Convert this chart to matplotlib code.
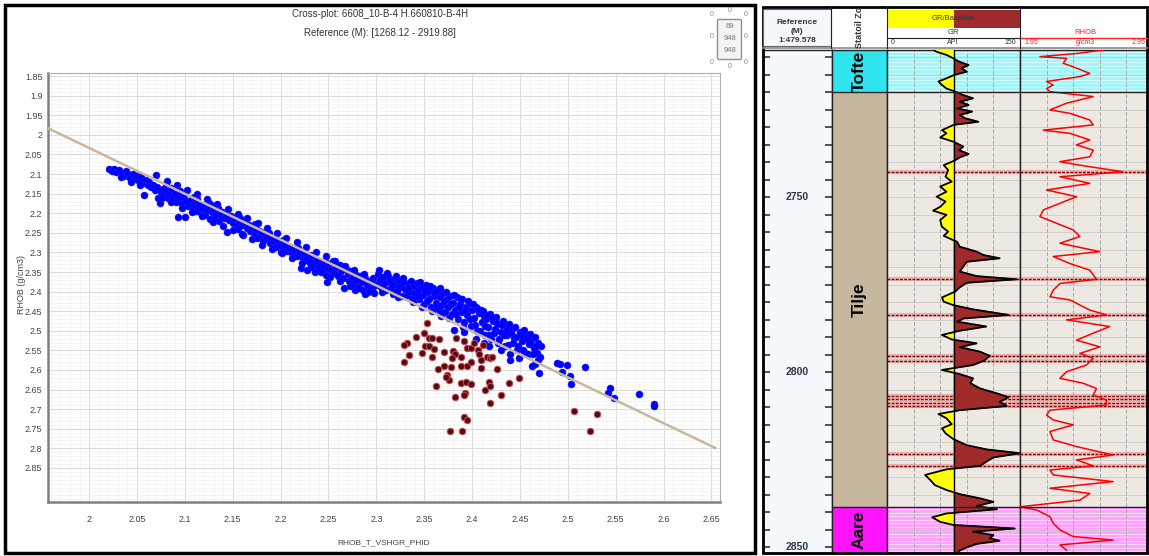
import numpy as np
import matplotlib
matplotlib.use("Agg")
import matplotlib.pyplot as plt
from matplotlib.patches import Rectangle, FancyBboxPatch
from matplotlib.ticker import MultipleLocator, FuncFormatter
from matplotlib.transforms import blended_transform_factory

plt.rcParams["font.family"] = ["Liberation Sans", "DejaVu Sans"]

# ---------------------------------------------------------------- crossplot data
x_ticks = [2, 2.05, 2.1, 2.15, 2.2, 2.25, 2.3, 2.35, 2.4, 2.45, 2.5, 2.55, 2.6, 2.65]
y_ticks = [1.85, 1.9, 1.95, 2, 2.05, 2.1, 2.15, 2.2, 2.25, 2.3, 2.35, 2.4, 2.45,
           2.5, 2.55, 2.6, 2.65, 2.7, 2.75, 2.8, 2.85]

# reference trend line (RHOB_T vs RHOB)
trend_rhob_t = [1.957, 2.654]
trend_rhob = [1.983, 2.799]

# blue points, (RHOB_T_VSHGR_PHID, RHOB) pairs
blue_start = [
    (2.021, 2.088), (2.024, 2.092), (2.026, 2.086), (2.028, 2.095), (2.031, 2.090),
    (2.034, 2.098), (2.036, 2.104), (2.039, 2.093), (2.041, 2.101), (2.043, 2.110),
    (2.046, 2.099), (2.048, 2.112), (2.050, 2.104), (2.052, 2.118), (2.054, 2.108),
    (2.056, 2.124), (2.057, 2.154), (2.059, 2.114), (2.061, 2.128), (2.063, 2.120),
    (2.065, 2.133), (2.033, 2.108), (2.044, 2.120), (2.053, 2.129),
]
blue_upper = [
    (2.067, 2.127), (2.069, 2.140), (2.071, 2.133), (2.072, 2.160), (2.074, 2.174),
    (2.075, 2.145), (2.077, 2.138), (2.078, 2.152), (2.080, 2.143), (2.082, 2.160),
    (2.083, 2.150), (2.085, 2.146), (2.087, 2.165), (2.088, 2.155), (2.090, 2.150),
    (2.091, 2.170), (2.093, 2.210), (2.094, 2.158), (2.096, 2.163), (2.097, 2.176),
    (2.099, 2.160), (2.100, 2.210), (2.101, 2.168), (2.103, 2.182), (2.104, 2.172),
    (2.106, 2.165), (2.108, 2.190), (2.109, 2.176), (2.111, 2.170), (2.112, 2.195),
    (2.114, 2.182), (2.115, 2.176), (2.117, 2.200), (2.118, 2.188), (2.120, 2.181),
    (2.121, 2.205), (2.123, 2.192), (2.124, 2.185), (2.126, 2.215), (2.128, 2.196),
    (2.129, 2.190), (2.131, 2.210), (2.133, 2.200), (2.134, 2.193), (2.136, 2.220),
    (2.138, 2.205), (2.139, 2.198), (2.085, 2.135), (2.098, 2.150), (2.113, 2.163),
    (2.127, 2.180), (2.080, 2.125), (2.095, 2.142), (2.110, 2.158), (2.125, 2.175),
    (2.135, 2.186),
]
blue_middle = [
    (2.141, 2.212), (2.143, 2.202), (2.144, 2.247), (2.146, 2.218), (2.148, 2.207),
    (2.150, 2.225), (2.151, 2.213), (2.153, 2.232), (2.155, 2.216), (2.156, 2.240),
    (2.158, 2.222), (2.160, 2.230), (2.161, 2.256), (2.163, 2.225), (2.165, 2.238),
    (2.167, 2.230), (2.168, 2.246), (2.170, 2.236), (2.172, 2.250), (2.174, 2.240),
    (2.175, 2.262), (2.177, 2.245), (2.179, 2.256), (2.180, 2.248), (2.182, 2.270),
    (2.184, 2.254), (2.185, 2.262), (2.187, 2.258), (2.189, 2.276), (2.190, 2.264),
    (2.192, 2.270), (2.194, 2.262), (2.195, 2.285), (2.197, 2.272), (2.199, 2.280),
    (2.200, 2.298), (2.202, 2.276), (2.204, 2.288), (2.205, 2.282), (2.207, 2.296),
    (2.209, 2.286), (2.211, 2.300), (2.212, 2.290), (2.214, 2.305), (2.216, 2.295),
    (2.217, 2.310), (2.219, 2.300), (2.221, 2.341), (2.222, 2.312), (2.224, 2.304),
    (2.226, 2.320), (2.228, 2.345), (2.229, 2.312), (2.231, 2.326), (2.233, 2.316),
    (2.235, 2.332), (2.236, 2.349), (2.238, 2.322), (2.240, 2.338), (2.242, 2.328),
    (2.244, 2.345), (2.245, 2.335), (2.247, 2.358), (2.248, 2.375), (2.249, 2.340),
    (2.158, 2.212), (2.173, 2.228), (2.188, 2.250), (2.203, 2.268), (2.218, 2.288),
    (2.232, 2.306), (2.246, 2.322),
    (2.251, 2.330), (2.253, 2.345), (2.255, 2.322), (2.256, 2.352), (2.258, 2.338),
    (2.260, 2.360), (2.262, 2.332), (2.263, 2.348), (2.265, 2.365), (2.266, 2.392),
    (2.268, 2.342), (2.270, 2.356), (2.271, 2.372), (2.273, 2.348), (2.275, 2.362),
    (2.276, 2.380), (2.278, 2.356), (2.280, 2.370), (2.281, 2.388), (2.283, 2.360),
    (2.285, 2.376), (2.286, 2.395), (2.288, 2.366), (2.290, 2.382), (2.291, 2.400),
    (2.293, 2.372), (2.295, 2.390), (2.296, 2.376), (2.298, 2.404), (2.300, 2.384),
    (2.278, 2.395), (2.288, 2.405),
]
blue_middle_edges = [
    (2.070, 2.103), (2.076, 2.160), (2.081, 2.117), (2.086, 2.172), (2.092, 2.128),
    (2.097, 2.186), (2.102, 2.140), (2.107, 2.196), (2.113, 2.152), (2.118, 2.208),
    (2.123, 2.164), (2.129, 2.222), (2.134, 2.176), (2.140, 2.232), (2.145, 2.190),
    (2.150, 2.244), (2.155, 2.202), (2.160, 2.254), (2.165, 2.213), (2.170, 2.266),
    (2.176, 2.226), (2.181, 2.280), (2.186, 2.238), (2.191, 2.290), (2.196, 2.250),
    (2.201, 2.302), (2.206, 2.262), (2.212, 2.314), (2.217, 2.274), (2.222, 2.326),
    (2.227, 2.286), (2.232, 2.338), (2.237, 2.298), (2.242, 2.350), (2.247, 2.310),
    (2.252, 2.362), (2.257, 2.322), (2.262, 2.374), (2.267, 2.334), (2.272, 2.386),
    (2.277, 2.345), (2.282, 2.392), (2.287, 2.355), (2.292, 2.398), (2.297, 2.366),
]
blue_lower = [
    (2.302, 2.356), (2.304, 2.370), (2.305, 2.388), (2.307, 2.362), (2.309, 2.378),
    (2.310, 2.395), (2.312, 2.360), (2.314, 2.374), (2.315, 2.390), (2.317, 2.405),
    (2.319, 2.366), (2.320, 2.382), (2.322, 2.398), (2.324, 2.372), (2.325, 2.388),
    (2.327, 2.412), (2.329, 2.376), (2.330, 2.394), (2.332, 2.408), (2.334, 2.380),
    (2.335, 2.400), (2.337, 2.418), (2.339, 2.386), (2.340, 2.404),
    (2.342, 2.378), (2.344, 2.395), (2.345, 2.420), (2.347, 2.388), (2.349, 2.408),
    (2.350, 2.432), (2.352, 2.382), (2.354, 2.400), (2.355, 2.418), (2.357, 2.440),
    (2.359, 2.392), (2.360, 2.410), (2.362, 2.428), (2.364, 2.398), (2.365, 2.446),
    (2.367, 2.415), (2.369, 2.434), (2.370, 2.404), (2.372, 2.452), (2.374, 2.420),
    (2.375, 2.440), (2.377, 2.410), (2.379, 2.458), (2.380, 2.428),
    (2.382, 2.446), (2.384, 2.415), (2.385, 2.470), (2.387, 2.432), (2.389, 2.452),
    (2.390, 2.420), (2.392, 2.478), (2.394, 2.440), (2.395, 2.460), (2.397, 2.428),
    (2.399, 2.488), (2.400, 2.448), (2.402, 2.468), (2.404, 2.438), (2.405, 2.500),
    (2.407, 2.455), (2.409, 2.447), (2.410, 2.478), (2.412, 2.462), (2.414, 2.510),
    (2.415, 2.470), (2.417, 2.490), (2.419, 2.458), (2.420, 2.520),
    (2.422, 2.476), (2.424, 2.496), (2.425, 2.466), (2.427, 2.530), (2.429, 2.482),
    (2.430, 2.502), (2.432, 2.474), (2.434, 2.540), (2.435, 2.488), (2.437, 2.510),
    (2.439, 2.482), (2.440, 2.575), (2.442, 2.496), (2.444, 2.518), (2.445, 2.490),
    (2.447, 2.548), (2.449, 2.570), (2.450, 2.504), (2.452, 2.526), (2.454, 2.498),
    (2.455, 2.556), (2.457, 2.512), (2.459, 2.534), (2.460, 2.508), (2.462, 2.523),
    (2.463, 2.591), (2.465, 2.545), (2.466, 2.515), (2.468, 2.557), (2.469, 2.531),
    (2.470, 2.608), (2.471, 2.568), (2.472, 2.540), (2.466, 2.585),
    (2.404, 2.520), (2.412, 2.532), (2.418, 2.540), (2.430, 2.548), (2.440, 2.560),
    (2.381, 2.498), (2.392, 2.502),
]
blue_lower_fill = [
    (2.303, 2.345), (2.306, 2.400), (2.311, 2.352), (2.316, 2.384), (2.321, 2.360),
    (2.323, 2.414), (2.328, 2.366), (2.333, 2.392), (2.336, 2.372), (2.338, 2.426),
    (2.343, 2.410), (2.346, 2.376), (2.348, 2.438), (2.351, 2.396), (2.353, 2.424),
    (2.356, 2.386), (2.358, 2.450), (2.361, 2.400), (2.363, 2.438), (2.366, 2.392),
    (2.368, 2.462), (2.371, 2.424), (2.373, 2.400), (2.376, 2.468), (2.378, 2.432),
    (2.381, 2.408), (2.383, 2.458), (2.386, 2.440), (2.388, 2.418), (2.391, 2.490),
    (2.393, 2.450), (2.396, 2.425), (2.398, 2.470), (2.401, 2.432), (2.403, 2.484),
    (2.406, 2.445), (2.408, 2.500), (2.411, 2.450), (2.413, 2.488), (2.416, 2.460),
    (2.418, 2.512), (2.421, 2.466), (2.423, 2.505), (2.426, 2.480), (2.428, 2.520),
    (2.431, 2.486), (2.433, 2.512), (2.436, 2.498), (2.438, 2.535), (2.441, 2.505),
    (2.443, 2.530), (2.446, 2.515), (2.448, 2.540), (2.451, 2.510), (2.453, 2.548),
    (2.456, 2.522), (2.458, 2.560), (2.461, 2.530), (2.464, 2.560), (2.467, 2.540),
    (2.469, 2.575),
]
blue_tail = [
    (2.489, 2.581), (2.492, 2.585), (2.499, 2.587), (2.494, 2.604), (2.502, 2.615),
    (2.503, 2.636), (2.518, 2.593), (2.544, 2.647), (2.542, 2.659), (2.548, 2.672),
    (2.574, 2.661), (2.590, 2.687), (2.590, 2.692),
]

# dark red points
red_points = [
    (2.353, 2.481), (2.350, 2.505), (2.341, 2.515), (2.332, 2.530), (2.329, 2.535),
    (2.355, 2.519), (2.358, 2.519), (2.365, 2.522), (2.351, 2.539), (2.355, 2.539),
    (2.360, 2.547), (2.348, 2.556), (2.358, 2.566), (2.334, 2.562), (2.329, 2.579),
    (2.371, 2.553), (2.383, 2.519), (2.392, 2.525), (2.380, 2.551), (2.382, 2.559),
    (2.379, 2.570), (2.388, 2.568), (2.395, 2.545), (2.399, 2.545), (2.406, 2.549),
    (2.407, 2.558), (2.409, 2.575), (2.402, 2.530), (2.411, 2.536), (2.416, 2.566),
    (2.419, 2.570), (2.421, 2.566), (2.371, 2.590), (2.364, 2.598), (2.378, 2.593),
    (2.388, 2.590), (2.395, 2.590), (2.399, 2.579), (2.409, 2.596), (2.426, 2.598),
    (2.374, 2.613), (2.376, 2.625), (2.373, 2.619), (2.362, 2.641), (2.388, 2.634),
    (2.394, 2.630), (2.399, 2.636), (2.393, 2.658), (2.392, 2.664), (2.382, 2.668),
    (2.414, 2.651), (2.418, 2.630), (2.419, 2.641), (2.430, 2.664), (2.439, 2.634),
    (2.449, 2.620), (2.419, 2.685), (2.392, 2.719), (2.395, 2.728), (2.377, 2.757),
    (2.389, 2.757), (2.507, 2.706), (2.530, 2.713), (2.523, 2.756),
]

# ---------------------------------------------------------------- well log data
zone_names = ["Tofte", "Tilje", "Aare"]
zone_tops = [2708.0, 2720.1, 2838.7]
zone_bases = [2720.1, 2838.7, 2851.7]
zone_colors = ["#2FE4EE", "#C8B79F", "#FF14FF"]
track_colors = ["#A4F5F7", "#EDE8E1", "#FFA3FF"]
depth_labels = [2750, 2800, 2850]
gr_baseline = 76
flag_depths = [2742.8, 2773.5, 2783.7, 2795.4, 2796.9, 2806.9, 2807.8, 2808.8,
               2809.7, 2823.5, 2826.8]

# (depth m, GR API)
gr_log = [
    (2708.0, 52), (2708.5, 56), (2709.4, 67), (2710.4, 75), (2711.3, 81), (2712.3, 92),
    (2713.2, 84), (2714.2, 90), (2715.1, 76), (2716.1, 67), (2717.0, 58), (2718.0, 62),
    (2719.0, 67), (2719.9, 77), (2720.9, 86), (2721.8, 97), (2722.8, 82), (2723.7, 92),
    (2724.7, 79), (2725.6, 96), (2726.6, 82), (2727.5, 88), (2728.5, 103), (2729.4, 75),
    (2730.9, 62), (2731.8, 67), (2733.0, 60), (2734.2, 75), (2735.6, 86), (2736.6, 81),
    (2737.7, 92), (2738.7, 82), (2739.6, 76), (2740.9, 64), (2742.3, 69), (2744.2, 66),
    (2745.6, 73), (2747.0, 60), (2748.5, 67), (2749.9, 56), (2751.3, 66), (2752.8, 60),
    (2753.9, 52), (2755.1, 67), (2756.6, 60), (2758.5, 62), (2759.9, 69), (2761.1, 64),
    (2762.8, 79), (2764.2, 82), (2765.6, 101), (2766.6, 109), (2767.5, 127), (2768.5, 90),
    (2769.9, 86), (2771.3, 82), (2772.6, 101), (2773.5, 146), (2774.5, 90), (2775.8, 82),
    (2777.0, 77), (2778.7, 62), (2779.9, 64), (2780.9, 75), (2782.1, 97), (2783.7, 137),
    (2784.7, 86), (2785.6, 79), (2787.0, 112), (2788.2, 82), (2789.4, 62), (2790.7, 73),
    (2791.8, 101), (2792.9, 82), (2794.2, 105), (2795.4, 116), (2796.8, 109), (2798.0, 97),
    (2799.4, 62), (2800.6, 82), (2801.8, 97), (2803.2, 94), (2804.7, 105), (2806.1, 124),
    (2807.2, 137), (2808.5, 127), (2809.7, 135), (2810.9, 82), (2812.0, 58), (2813.2, 67),
    (2814.9, 73), (2816.1, 62), (2817.5, 66), (2819.2, 75), (2820.9, 90), (2822.1, 112),
    (2823.2, 150), (2824.4, 120), (2825.6, 112), (2826.8, 105), (2827.8, 67), (2829.4, 43),
    (2830.9, 49), (2832.3, 54), (2833.7, 67), (2834.9, 82), (2836.1, 105), (2837.1, 120),
    (2838.3, 101), (2839.2, 124), (2840.4, 67), (2841.5, 51), (2842.8, 60), (2843.7, 75),
    (2844.7, 144), (2845.6, 97), (2846.6, 120), (2847.5, 116), (2848.2, 127), (2849.1, 101),
    (2850.1, 90), (2851.0, 82), (2851.7, 80),
]

# (depth m, RHOB g/cm3)
rhob_log = [
    (2708.0, 2.575), (2709.0, 2.375), (2709.9, 2.10), (2710.4, 2.30), (2711.8, 2.275),
    (2712.8, 2.35), (2714.7, 2.475), (2715.6, 2.40), (2717.0, 2.15), (2718.0, 2.20),
    (2719.0, 2.15), (2719.9, 2.175), (2721.3, 2.50), (2723.2, 2.30), (2725.1, 2.175),
    (2726.1, 2.325), (2728.0, 2.475), (2729.4, 2.50), (2730.9, 2.125), (2731.8, 2.325),
    (2733.7, 2.475), (2735.1, 2.375), (2736.6, 2.50), (2738.5, 2.475), (2739.9, 2.25),
    (2740.9, 2.40), (2742.8, 2.725), (2744.2, 2.25), (2746.1, 2.475), (2748.0, 2.15),
    (2749.9, 2.375), (2751.8, 2.25), (2753.7, 2.125), (2755.6, 2.10), (2757.5, 2.225),
    (2759.4, 2.35), (2761.3, 2.40), (2763.2, 2.25), (2765.6, 2.55), (2767.0, 2.20),
    (2769.0, 2.325), (2770.9, 2.475), (2773.5, 2.525), (2774.7, 2.25), (2776.6, 2.20),
    (2778.5, 2.175), (2779.4, 2.325), (2782.3, 2.475), (2783.7, 2.60), (2785.1, 2.30),
    (2787.0, 2.625), (2788.9, 2.50), (2790.9, 2.375), (2792.8, 2.55), (2794.7, 2.40),
    (2796.1, 2.50), (2798.0, 2.45), (2799.9, 2.30), (2801.8, 2.25), (2803.2, 2.425),
    (2804.7, 2.525), (2806.6, 2.50), (2808.0, 2.60), (2809.4, 2.60), (2810.9, 2.175),
    (2812.3, 2.15), (2813.7, 2.20), (2815.1, 2.35), (2817.0, 2.175), (2819.4, 2.20),
    (2821.3, 2.375), (2823.7, 2.65), (2825.1, 2.375), (2826.8, 2.50), (2828.0, 2.175),
    (2829.4, 2.20), (2831.3, 2.65), (2833.2, 2.175), (2834.7, 2.475), (2836.6, 2.40),
    (2838.5, 1.95), (2839.4, 2.075), (2841.3, 2.175), (2843.2, 2.20), (2845.1, 2.25),
    (2847.0, 2.35), (2848.0, 2.65), (2849.4, 2.25), (2850.9, 2.30),
]

# ---------------------------------------------------------------- figure
W, H = 1149, 556
fig = plt.figure(figsize=(W / 100, H / 100), dpi=100, facecolor="white")


def px_axes(x0, y0, x1, y1):
    # axes from a pixel box, origin at top-left
    return fig.add_axes([x0 / W, 1 - y1 / H, (x1 - x0) / W, (y1 - y0) / H])


# ---- crossplot
ax = px_axes(48, 73, 720, 502)
blue = (blue_start + blue_upper + blue_middle + blue_middle_edges + blue_lower
        + blue_lower_fill + blue_tail)
bx, by = zip(*blue)
rx, ry = zip(*red_points)
ax.scatter(bx, by, s=26, color="#0000FF", edgecolors="#2020FF", linewidths=0.3, zorder=3)
ax.scatter(rx, ry, s=22, color="#5A0A16", edgecolors="#C0504D", linewidths=0.7, zorder=3)
ax.plot(trend_rhob_t, trend_rhob, color="#C8B79C", lw=1.8, zorder=4)
ax.set_xlim(1.957, 2.659)
ax.set_ylim(2.937, 1.842)
ax.set_xticks(x_ticks)
ax.set_yticks(y_ticks)
ax.xaxis.set_minor_locator(MultipleLocator(0.01))
ax.yaxis.set_minor_locator(MultipleLocator(0.01))
fmt = FuncFormatter(lambda v, _: f"{v:g}")
ax.xaxis.set_major_formatter(fmt)
ax.yaxis.set_major_formatter(fmt)
ax.tick_params(which="both", length=0, labelsize=6.5, colors="#444444")
ax.tick_params(axis="x", pad=9)
ax.tick_params(axis="y", pad=4)
ax.grid(which="major", color="#DCDCDC", lw=0.8)
ax.grid(which="minor", color="#F1F1F1", lw=0.5)
ax.set_axisbelow(True)
for side in ("left", "bottom"):
    ax.spines[side].set_color("#808080")
    ax.spines[side].set_linewidth(1.8)
for side in ("top", "right"):
    ax.spines[side].set_color("#B0B0B0")
    ax.spines[side].set_linewidth(0.8)

# ---- well log panel
top, base = 2708.0, 2851.7
ref = px_axes(763, 50, 832, 553)
zone = px_axes(832, 50, 887, 553)
gr_ax = px_axes(887, 50, 1020, 553)
rh_ax = px_axes(1020, 50, 1153, 553)
for a in (ref, zone, gr_ax, rh_ax):
    a.set_ylim(base, top)
    a.set_xticks([])
    for s in a.spines.values():
        s.set_color("#222222")
        s.set_linewidth(1.0)

ref.set_facecolor("#F5F9FE")
ref.set_xlim(0, 1)
ref.set_yticks(np.arange(2710, 2851, 5))
ref.tick_params(axis="y", direction="in", left=True, right=True, labelleft=False,
                length=5, width=1.2, color="#333333")
tr = blended_transform_factory(ref.transAxes, ref.transData)
for d in depth_labels:
    ref.text(0.5, d, str(d), transform=tr, ha="center", va="center",
             fontsize=7.5, fontweight="bold", color="#2F3640")

zone.set_xlim(0, 1)
zone.set_yticks([])
ztr = blended_transform_factory(zone.transAxes, zone.transData)
for name, zt, zb, zc, tc in zip(zone_names, zone_tops, zone_bases, zone_colors, track_colors):
    zone.axhspan(zt, zb, color=zc, zorder=0)
    zone.axhline(zb, color="#222222", lw=1.0)
    zone.text(0.5, (zt + zb) / 2, name, transform=ztr, rotation=90, ha="center",
              va="center", fontsize=12.5, fontweight="bold", color="black")
    for a in (gr_ax, rh_ax):
        a.axhspan(zt, zb, color=tc, zorder=0)
        a.axhline(zb, color="#222222", lw=1.0, zorder=5)
        if name != "Tilje":
            for d in np.arange(zt + 0.5, zb, 1.0):
                a.axhline(d, color="white", lw=0.6, alpha=0.7, zorder=0.5)

for a in (gr_ax, rh_ax):
    a.set_yticks([])
    for d in np.arange(2710, 2851, 5):
        a.axhline(d, color="#C9C9C9", lw=0.6, zorder=1)
    for d in flag_depths:
        a.axhline(d, color="#E2A0A0", lw=3.0, alpha=0.7, zorder=2)
        a.axhline(d, color="#8B0000", lw=1.0, ls=(0, (2, 1)), zorder=2)

gd, gv = map(np.array, zip(*gr_log))
gr_ax.set_xlim(0, 150)
for v in (30, 60, 90, 120):
    gr_ax.axvline(v, color="#A8A8A8", lw=0.7, ls=(0, (4, 2)), zorder=1)
gr_ax.fill_betweenx(gd, gv, gr_baseline, where=gv < gr_baseline, color="#FFFF00",
                    interpolate=True, zorder=3)
gr_ax.fill_betweenx(gd, gv, gr_baseline, where=gv > gr_baseline, color="#A02A2A",
                    interpolate=True, zorder=3)
gr_ax.axvline(gr_baseline, color="black", lw=1.0, zorder=4)
gr_ax.plot(gv, gd, color="black", lw=1.3, zorder=4)

rd, rv = zip(*rhob_log)
rh_ax.set_xlim(1.95, 2.95)
for v in (2.15, 2.35, 2.55, 2.75):
    rh_ax.axvline(v, color="#A8A8A8", lw=0.7, ls=(0, (4, 2)), zorder=1)
rh_ax.plot(rv, rd, color="#FF0000", lw=1.1, zorder=4)

# ---- overlay for frames, titles and headers
ov = fig.add_axes([0, 0, 1, 1])
ov.set_xlim(0, W)
ov.set_ylim(H, 0)
ov.axis("off")
ov.set_zorder(10)

ov.add_patch(Rectangle((5, 5), 750, 548, fill=False, ec="black", lw=2.5))
ov.add_patch(Rectangle((763, 7), 384, 546, fill=False, ec="black", lw=2.0))

ov.text(380, 14, "Cross-plot: 6608_10-B-4 H.660810-B-4H", ha="center", va="center",
        fontsize=7, color="#333333")
ov.text(380, 33, "Reference (M): [1268.12 - 2919.88]", ha="center", va="center",
        fontsize=7, color="#333333")
ov.text(384, 543, "RHOB_T_VSHGR_PHID", ha="center", va="center", fontsize=6,
        color="#444444")
ov.text(22, 285, "RHOB (g/cm3)", ha="center", va="center", rotation=90, fontsize=6.5,
        color="#444444")

# little counter widget in the corner
ov.add_patch(FancyBboxPatch((719, 21), 21, 37, boxstyle="round,pad=1.5",
                            fc="#F4F4F4", ec="#909090", lw=1.0))
for yy, t in zip((27, 39, 51), ("69", "948", "948")):
    ov.text(729.5, yy, t, ha="center", va="center", fontsize=5.5, color="#777777")
for xx, yy in ((712, 15), (730, 10), (746, 15), (712, 37), (746, 37),
               (712, 62), (730, 67), (746, 62)):
    ov.text(xx, yy, "0", ha="center", va="center", fontsize=5, color="#888888")

# log header
ov.add_patch(Rectangle((763, 9), 68, 37, fc="#F5F8FC", ec="#666666", lw=0.8))
for yy, t in zip((23, 31.5, 40.5), ("Reference", "(M)", "1:479.578")):
    ov.text(797, yy, t, ha="center", va="center", fontsize=6, fontweight="bold",
            color="#333333")
ov.text(859, 27, "Statoil Zo", ha="center", va="center", rotation=90, fontsize=6.5,
        fontweight="bold", color="#333333")
ov.add_patch(Rectangle((888, 10), 66, 18, fc="#FFFF00", ec="none"))
ov.add_patch(Rectangle((954, 10), 66, 18, fc="#9E2A2B", ec="none"))
ov.text(953, 19, "GR/Baseline", ha="center", va="center", fontsize=5.5, color="#333333")
ov.text(953, 33, "GR", ha="center", va="center", fontsize=5.5, color="#333333")
ov.plot([887, 1020], [38, 38], color="#222222", lw=0.8)
ov.text(891, 43, "0", ha="left", va="center", fontsize=5, color="#333333")
ov.text(953, 43, "API", ha="center", va="center", fontsize=5, color="#333333")
ov.text(1016, 43, "150", ha="right", va="center", fontsize=5, color="#333333")
ov.text(1085, 33, "RHOB", ha="center", va="center", fontsize=5.5, color="#FF2020")
ov.plot([1020, 1147], [38, 38], color="#FF2020", lw=1.0)
ov.text(1024, 43, "1.95", ha="left", va="center", fontsize=5, color="#FF2020")
ov.text(1085, 43, "g/cm3", ha="center", va="center", fontsize=5, color="#FF2020")
ov.text(1145, 43, "2.95", ha="right", va="center", fontsize=5, color="#FF2020")
ov.plot([763, 1147], [47.5, 47.5], color="#8A8A8A", lw=1.2)
for xx in (831, 887, 1020):
    ov.plot([xx, xx], [7, 47.5], color="#222222", lw=0.8)

fig.savefig("out.png", dpi=100, facecolor="white")
